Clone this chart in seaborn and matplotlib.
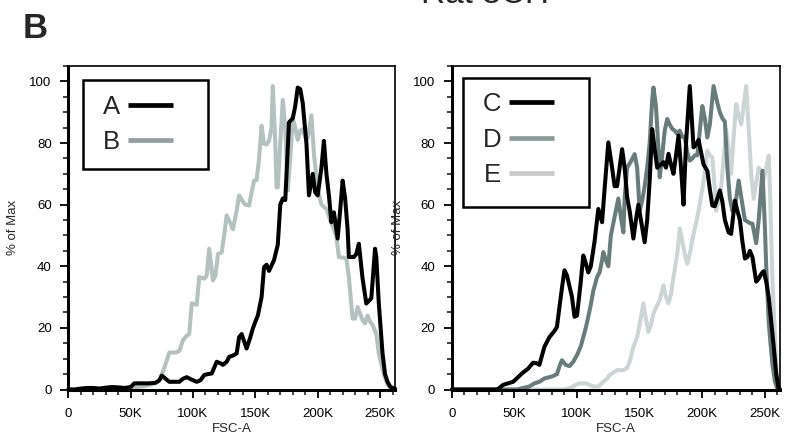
import numpy as np
import pandas as pd
import matplotlib
matplotlib.use("Agg")
import matplotlib.pyplot as plt
from matplotlib.lines import Line2D
from matplotlib.patches import Rectangle
from matplotlib.ticker import MultipleLocator, FixedLocator
import seaborn as sns

# ---------------- data (FSC-A in thousands, % of Max) ----------------
a_x = [0, 5, 10, 15, 20, 25, 30, 35, 40, 45, 50, 53, 60, 65, 70, 73, 75, 78, 81, 85, 89, 92, 95,
       99, 103, 106, 109, 112, 115, 119, 122, 124, 127, 129, 132, 135, 137, 139, 143, 146, 148,
       150, 152, 155, 157, 159, 161, 165, 168, 170, 172, 174, 177, 180, 182, 184, 186, 188, 191,
       193, 196, 198, 200, 203, 205, 207, 209, 211, 213, 216, 218, 220, 222, 224, 225, 229, 231,
       233, 236, 239, 243, 246, 247, 249, 252, 254, 256, 258, 260, 262]
a_y = [0, 0, 0.3, 0.5, 0.5, 0.3, 0.6, 0.8, 0.7, 0.5, 0.8, 2, 2, 2, 2.2, 3, 4.5, 3.5, 2.5, 2.5, 2.5,
       3.5, 4, 3.2, 2.5, 3, 4.7, 5, 5.2, 9, 8.5, 8, 9, 10.6, 11, 11.7, 17, 18, 13.3, 17, 19.8,
       22, 24, 30, 39.7, 40.5, 38.5, 42, 47, 60, 62, 61.5, 86.7, 88, 92, 98, 97.5, 93, 79.7,
       63, 70, 64, 63, 72, 80.7, 70, 63, 54.3, 57.5, 49, 58, 67.8, 62, 52, 43, 43, 44,
       47.3, 36, 27.9, 29.6, 45.7, 43, 28, 11.7, 5, 2.5, 1, 0.5, 0.3]

b_x = [0, 10, 20, 30, 40, 45, 50, 55, 60, 65, 70, 73, 77, 81, 86, 89, 92, 95, 97, 99, 103, 105,
       109, 111, 113, 116, 118, 120, 123, 125, 127, 130, 132, 135, 137, 140, 142, 145, 147, 149,
       151, 153, 155, 157, 159, 161, 163, 164, 166, 167, 168, 170, 172, 174, 176, 178, 180, 182,
       184, 186, 188, 190, 192, 195, 197, 200, 203, 207, 210, 213, 215, 217, 220, 223, 225, 228,
       230, 232, 236, 238, 240, 242, 244, 247, 249, 253, 256, 260, 262]
b_y = [0, 0, 0.2, 0.3, 0.4, 0.3, 0.3, 0.8, 1, 1.5, 2, 3, 7, 12, 12, 12.5, 16, 17.5, 18, 28, 27.5,
       36.5, 36, 37, 45.7, 35.4, 37, 44, 44.5, 50, 56.5, 54, 52, 58, 63, 61, 60, 59.7, 64, 67.8,
       68, 75, 85.6, 79.7, 79.5, 80.7, 85, 98.5, 80, 65.6, 65.6, 80, 94, 85, 64.6, 75, 88, 85,
       81, 84, 84.5, 82, 81.5, 89, 76.4, 65, 60, 58.6, 55, 52, 49.5, 43, 42.8, 42.5, 36.5, 23,
       23, 26.8, 22.5, 21.5, 24, 22, 21, 18, 11.7, 5, 1.5, 0, 0]

c_x = [0, 10, 20, 30, 36, 38, 41, 45, 49, 53, 56, 61, 65, 68, 70, 74, 78, 82, 84, 86, 88, 90, 92,
       96, 98, 100, 103, 105, 107, 109, 111, 114, 115, 117, 120, 122, 125, 128, 130, 132, 136,
       138, 140, 142, 145, 147, 149, 151, 154, 156, 158, 160, 162, 164, 167, 169, 171, 173, 175,
       177, 179, 181, 183, 185, 187, 190, 193, 195, 197, 199, 201, 204, 206, 208, 210, 212, 214,
       216, 218, 221, 223, 226, 228, 230, 232, 234, 236, 238, 240, 243, 245, 247, 249, 251, 253,
       255, 257, 259, 261, 262]
c_y = [0, 0, 0, 0, 0, 0.5, 1.5, 2, 2.5, 4, 5.2, 6.8, 8.7, 8.5, 8, 13.9, 17, 19, 20.3, 26.8, 33,
       38.7, 37, 30, 23.6, 24, 35, 43.5, 41, 38, 40, 48, 51.6, 58.6, 54.3, 65, 80.2, 72, 66, 66,
       78, 72, 62.5, 58, 49, 55, 60, 55, 47.8, 55, 67.8, 84.5, 78, 72, 73, 73.8, 72, 76.5, 73,
       70, 76, 82.4, 72, 60, 80, 98.5, 78.6, 79.5, 81, 77, 73, 71, 65, 59.7, 59.5, 62, 64.6,
       61, 55, 51, 50.5, 61.3, 58, 55, 48, 42.5, 43, 45, 43, 35, 36, 37.5, 38.4, 35, 30,
       22, 13.9, 5, 0, 0]

d_x = [0, 20, 40, 52, 57, 62, 66, 70, 74, 78, 81, 84, 86, 88, 91, 94, 97, 100, 103, 105, 107, 109,
       111, 113, 116, 118, 120, 121, 123, 125, 127, 129, 131, 133, 135, 137, 138, 140, 143, 146,
       148, 150, 152, 154, 156, 158, 160, 161, 163, 165, 166, 168, 170, 172, 174, 176, 178, 180,
       182, 184, 186, 188, 190, 192, 194, 196, 198, 200, 202, 204, 206, 209, 212, 214, 216, 218,
       220, 222, 224, 226, 229, 232, 234, 238, 240, 243, 245, 248, 250, 251, 253, 254, 256, 258,
       260, 262]
d_y = [0, 0, 0, 0, 0.5, 1, 2, 2.5, 3.6, 4, 4.4, 5, 7.5, 9.5, 8, 7.6, 9, 11.2, 14, 17, 20, 23.6,
       27.5, 32, 36.5, 38, 42, 44.6, 42, 40, 50, 54, 58, 62, 56, 51, 62, 72, 74, 76.4, 72, 58,
       61.3, 66, 72, 80, 94, 98, 92, 78, 68.9, 76, 84, 87.8, 86, 84.6, 84, 83, 84, 82, 82, 77,
       74.3, 75, 76, 76, 84, 92, 88, 81.8, 86, 98.5, 93, 90, 88, 87, 72, 62, 58, 59, 67.8, 60,
       55, 54, 53.8, 47.5, 55, 71, 52, 40, 22, 17, 8, 2.5, 0, 0]

e_x = [0, 30, 60, 90, 95, 99, 102, 107, 110, 113, 117, 121, 124, 126, 129, 132, 137, 140, 142, 145,
       148, 150, 153, 155, 157, 159, 161, 163, 166, 169, 171, 173, 175, 177, 180, 182, 184, 186,
       188, 190, 193, 195, 197, 200, 202, 204, 206, 208, 210, 211, 213, 215, 217, 219, 221, 223,
       225, 227, 229, 231, 233, 235, 237, 239, 241, 243, 245, 247, 249, 251, 253, 254, 255, 256,
       258, 259, 260, 262]
e_y = [0, 0, 0, 0, 0.5, 1.5, 2, 2, 1.5, 1, 1, 2.5, 3.5, 4.7, 5.5, 6.3, 6.3, 7, 9, 13.9, 17, 21,
       28, 23, 18.7, 21, 24.7, 26.5, 29, 33.8, 30, 28, 31, 36.5, 44, 52.2, 48, 44, 40.8, 44,
       50.5, 54, 58, 65, 71, 77.5, 76, 75.3, 65, 58, 61, 65.6, 75, 84.5, 78, 70, 82, 92.6, 89,
       86, 92, 98.5, 85, 70, 61.9, 67, 72, 71, 68, 72, 75.9, 65, 49.5, 35, 17, 8, 0, 0]

left_labels = ["A", "B"]
right_labels = ["C", "D", "E"]
line_colors = {"A": "#000000", "B": "#b3c1bf", "C": "#000000", "D": "#677c7b", "E": "#cbd5d5"}
legend_colors = {"A": "#000000", "B": "#8fa09e", "C": "#000000", "D": "#8b9c9a", "E": "#c9c9c9"}

x_ticks = [0, 50000, 100000, 150000, 200000, 250000]
x_tick_labels = ["0", "50K", "100K", "150K", "200K", "250K"]
y_ticks = [0, 20, 40, 60, 80, 100]
x_label = "FSC-A"
y_label = "% of Max"
title = "Rat 3CH"
panel = "B"


def frame(name, xs, ys):
    return pd.DataFrame({"FSC": np.array(xs, float) * 1000, "pct": ys, "sample": name})


left_df = pd.concat([frame("B", b_x, b_y), frame("A", a_x, a_y)], ignore_index=True)
right_df = pd.concat([frame("E", e_x, e_y), frame("D", d_x, d_y), frame("C", c_x, c_y)],
                     ignore_index=True)

# ---------------- style ----------------
sns.set_style("ticks")
plt.rcParams["font.family"] = ["Liberation Sans", "DejaVu Sans"]

W, H = 787, 444
fig = plt.figure(figsize=(W / 100, H / 100), dpi=100)

def px_axes(x0, x1, ytop, ybot):
    return fig.add_axes([x0 / W, 1 - ybot / H, (x1 - x0) / W, (ybot - ytop) / H])

ax_l = px_axes(68.3, 395, 66, 389.5)
ax_r = px_axes(451.7, 780, 66, 389.5)

panels = [
    (ax_l, left_df, ["B", "A"], left_labels, (0.044, 0.6816, 0.4285, 0.9567), (0.106, 0.819), 0.151),
    (ax_r, right_df, ["E", "D", "C"], right_labels, (0.0344, 0.564, 0.4182, 0.963), (0.094, 0.772), 0.145),
]

for ax, df, order, leg_labels, box, anchor, ylab_off in panels:
    sns.lineplot(data=df, x="FSC", y="pct", hue="sample", hue_order=order,
                 palette=line_colors, linewidth=2.9, estimator=None, legend=False, ax=ax)
    for ln in ax.lines:
        ln.set_clip_on(False)
        ln.set_solid_joinstyle("round")
    ax.set_xlim(0, 262000)
    ax.set_ylim(0, 105)
    ax.xaxis.set_major_locator(FixedLocator(x_ticks))
    ax.set_xticklabels(x_tick_labels)
    ax.xaxis.set_minor_locator(MultipleLocator(10000))
    ax.set_yticks(y_ticks)
    ax.yaxis.set_minor_locator(MultipleLocator(5))
    ax.tick_params(which="major", length=6, width=1.3, labelsize=9.5, colors="black",
                   direction="out")
    ax.tick_params(axis="y", which="major", pad=6)
    ax.tick_params(axis="x", which="major", pad=7)
    ax.tick_params(which="minor", length=3.5, width=1.2, direction="out")
    for s in ["left", "bottom"]:
        ax.spines[s].set_linewidth(2.2)
        ax.spines[s].set_color("black")
    for s in ["top", "right"]:
        ax.spines[s].set_visible(True)
        ax.spines[s].set_linewidth(1.2)
        ax.spines[s].set_color("black")
    ax.set_xlabel(x_label, fontsize=9.5)
    ax.set_ylabel(y_label, fontsize=9.5)
    ax.xaxis.set_label_coords(0.5, -0.105)
    ax.yaxis.set_label_coords(-ylab_off, 0.5)

    ax.add_patch(Rectangle((box[0], box[1]), box[2] - box[0], box[3] - box[1],
                           transform=ax.transAxes, facecolor="white", edgecolor="black",
                           linewidth=1.8, zorder=4, clip_on=False))
    handles = [Line2D([], [], color=legend_colors[k], linewidth=3.4, solid_capstyle="butt")
               for k in leg_labels]
    leg = ax.legend(handles, leg_labels, loc="center left", bbox_to_anchor=anchor,
                    borderaxespad=0, borderpad=0, markerfirst=False, frameon=False,
                    fontsize=18.5, handlelength=1.75, handletextpad=0.3,
                    labelspacing=0.45)
    leg.set_zorder(5)

fig.text(485 / W, 1 - 3 / H, title, fontsize=24, ha="center", va="baseline")
fig.text(23 / W, 1 - 38 / H, panel, fontsize=25, fontweight="bold", ha="left", va="baseline")

fig.savefig("out.png", dpi=100)
